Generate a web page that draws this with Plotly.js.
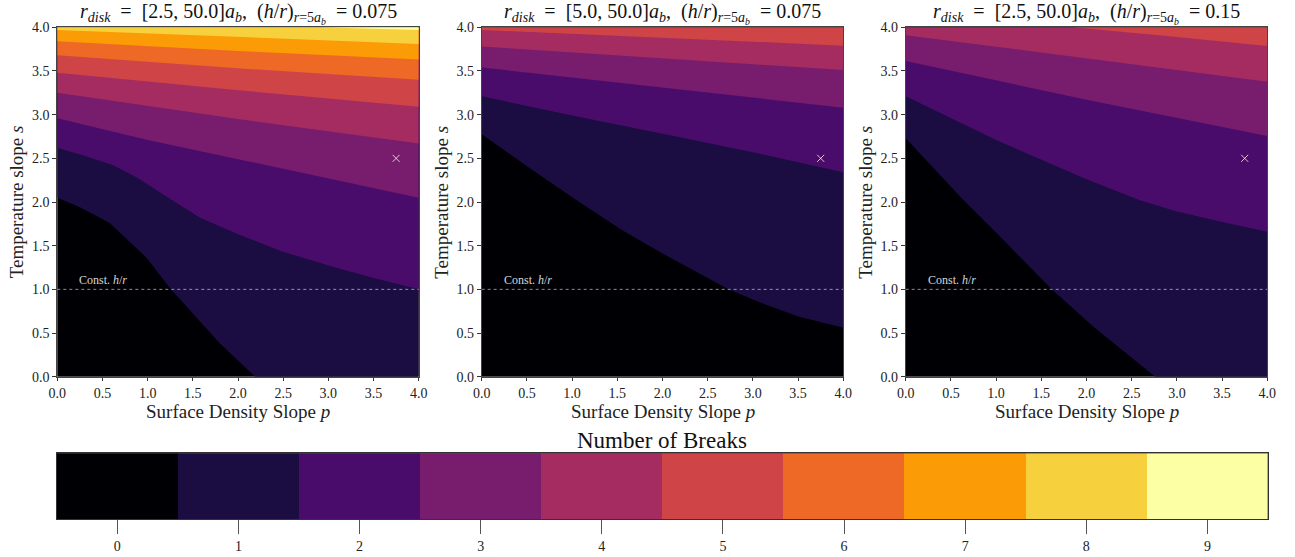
<!DOCTYPE html>
<html>
<head>
<meta charset="utf-8">
<script src="https://cdn.plot.ly/plotly-3.0.1.min.js"></script>
<style>html,body{margin:0;padding:0;background:#fff;}#chart{width:1295px;height:557px;}</style>
</head>
<body>
<div id="chart"></div>
<script>
// ---------- DATA ----------
const LEVELS = [0,1,2,3,4,5,6,7,8,9];
const LEVEL_COLORS = ['#000004','#1b0c41','#4a0c6b','#781c6d','#a52c60','#cf4446','#ed6925','#fb9b06','#f7d13d','#fcffa4'];
const TITLES = [
  '<i>r</i><sub><i>disk</i></sub>  =  [2.5, 50.0]<i>a</i><sub><i>b</i></sub>,  (<i>h</i>/<i>r</i>)<sub><i>r</i>=5<i>a<sub>b</sub></i></sub>  = 0.075',
  '<i>r</i><sub><i>disk</i></sub>  =  [5.0, 50.0]<i>a</i><sub><i>b</i></sub>,  (<i>h</i>/<i>r</i>)<sub><i>r</i>=5<i>a<sub>b</sub></i></sub>  = 0.075',
  '<i>r</i><sub><i>disk</i></sub>  =  [2.5, 50.0]<i>a</i><sub><i>b</i></sub>,  (<i>h</i>/<i>r</i>)<sub><i>r</i>=5<i>a<sub>b</sub></i></sub>  = 0.15'
];
const MARKER_P = 3.75, MARKER_S = 2.5;
const CONST_HR_S = 1.0;

// Panel 1 : boundary where level k begins (region above has >= k breaks)
const P1_B1_P = [0, 0.25, 0.58, 0.99, 1.25, 1.8, 2.19];
const P1_B1_S = [2.05, 1.94, 1.76, 1.36, 1.01, 0.38, 0.0];
const P1_B2_P = [0, 0.3, 0.62, 0.9, 1.15, 1.58, 2.0, 2.5, 3.05, 3.5, 4.0];
const P1_B2_S = [2.62, 2.53, 2.42, 2.27, 2.10, 1.82, 1.63, 1.43, 1.26, 1.13, 1.0];
const P1_B3_P = [0, 1, 2, 3, 4];
const P1_B3_S = [2.96, 2.71, 2.49, 2.27, 2.05];
const P1_B4_P = [0, 2, 4];
const P1_B4_S = [3.25, 2.95, 2.67];
const P1_B5_P = [0, 2, 4];
const P1_B5_S = [3.48, 3.28, 3.09];
const P1_B6_P = [0, 2, 4];
const P1_B6_S = [3.68, 3.53, 3.40];
const P1_B7_P = [0, 2, 4];
const P1_B7_S = [3.84, 3.73, 3.63];
const P1_B8_P = [0, 2, 4];
const P1_B8_S = [3.97, 3.89, 3.81];
const P1_B9_P = [2.9, 4];
const P1_B9_S = [4.0, 3.97];

// Panel 2
const P2_B1_P = [0, 0.5, 1.05, 1.55, 2.0, 2.4, 2.73, 3.1, 3.5, 4.0];
const P2_B1_S = [2.775, 2.41, 2.02, 1.68, 1.41, 1.19, 1.0, 0.84, 0.69, 0.56];
const P2_B2_P = [0, 1, 2, 3, 4];
const P2_B2_S = [3.21, 2.99, 2.78, 2.57, 2.34];
const P2_B3_P = [0, 2, 4];
const P2_B3_S = [3.54, 3.31, 3.08];
const P2_B4_P = [0, 2, 4];
const P2_B4_S = [3.78, 3.645, 3.51];
const P2_B5_P = [0, 2, 4];
const P2_B5_S = [3.97, 3.88, 3.79];

// Panel 3
const P3_B1_P = [0, 0.64, 1.0, 1.615, 2.08, 2.76];
const P3_B1_S = [2.73, 2.02, 1.65, 1.0, 0.57, 0.0];
const P3_B2_P = [0, 1, 2, 2.59, 3, 3.5, 4];
const P3_B2_S = [3.21, 2.71, 2.26, 2.02, 1.89, 1.77, 1.66];
const P3_B3_P = [0, 2, 4];
const P3_B3_S = [3.615, 3.17, 2.756];
const P3_B4_P = [0, 2, 4];
const P3_B4_S = [3.91, 3.64, 3.378];
const P3_B5_P = [1.85, 3, 4];
const P3_B5_S = [4.0, 3.89, 3.786];

const PANELS = [
  [[1,P1_B1_P,P1_B1_S],[2,P1_B2_P,P1_B2_S],[3,P1_B3_P,P1_B3_S],[4,P1_B4_P,P1_B4_S],[5,P1_B5_P,P1_B5_S],[6,P1_B6_P,P1_B6_S],[7,P1_B7_P,P1_B7_S],[8,P1_B8_P,P1_B8_S],[9,P1_B9_P,P1_B9_S]],
  [[1,P2_B1_P,P2_B1_S],[2,P2_B2_P,P2_B2_S],[3,P2_B3_P,P2_B3_S],[4,P2_B4_P,P2_B4_S],[5,P2_B5_P,P2_B5_S]],
  [[1,P3_B1_P,P3_B1_S],[2,P3_B2_P,P3_B2_S],[3,P3_B3_P,P3_B3_S],[4,P3_B4_P,P3_B4_S],[5,P3_B5_P,P3_B5_S]]
];

// ---------- GEOMETRY / STYLE ----------
const W = 1295, H = 557;
const PMIN = 0, PMAX = 4, SMIN = 0, SMAX = 4;
const XDOM = [[57.3, 418.7], [481.7, 843.3], [905.7, 1267.3]];
const YTOP = 27.3, YBOT = 376.7;
const CB = {x0: 56.7, x1: 1268, y0: 453.3, y1: 519};
const FONT = '"Liberation Serif", "DejaVu Serif", serif';
const fx = px => px / W;
const fy = py => 1 - py / H;

const traces = [];
const layout = {
  width: W, height: H,
  margin: {l: 0, r: 0, t: 0, b: 0},
  paper_bgcolor: '#ffffff',
  plot_bgcolor: LEVEL_COLORS[0],
  showlegend: false,
  font: {family: FONT, color: '#222'},
  annotations: []
};

function regionAbove(p, s) {
  const xs = p.slice(), ys = s.slice();
  if (xs[0] > PMIN) { xs.unshift(PMIN); ys.unshift(ys[0]); }
  if (xs[xs.length - 1] < PMAX) { xs.push(PMAX); ys.push(ys[ys.length - 1]); }
  xs.push(PMAX, PMIN, xs[0]);
  ys.push(SMAX, SMAX, ys[0]);
  return {xs, ys};
}

PANELS.forEach((bounds, i) => {
  const n = i + 1;
  const xa = 'x' + (n === 1 ? '' : n), ya = 'y' + (n === 1 ? '' : n);
  bounds.forEach(([lev, p, s]) => {
    const r = regionAbove(p, s);
    traces.push({
      type: 'scatter', mode: 'lines', x: r.xs, y: r.ys, xaxis: xa, yaxis: ya,
      fill: 'toself', fillcolor: LEVEL_COLORS[lev], line: {width: 0, color: LEVEL_COLORS[lev]},
      hoverinfo: 'skip'
    });
  });
  traces.push({
    type: 'scatter', mode: 'lines', x: [PMIN, PMAX], y: [CONST_HR_S, CONST_HR_S], xaxis: xa, yaxis: ya,
    line: {color: 'rgba(255,255,255,0.55)', width: 1, dash: 'dot'}, hoverinfo: 'skip'
  });
  traces.push({
    type: 'scatter', mode: 'markers', x: [MARKER_P], y: [MARKER_S], xaxis: xa, yaxis: ya,
    marker: {symbol: 'x-thin', size: 7, line: {width: 1, color: 'rgba(255,225,240,0.85)'}}, hoverinfo: 'skip'
  });
  const common = {
    tick0: 0, dtick: 0.5, tickformat: '.1f', ticks: 'outside', ticklen: 4, tickwidth: 1, tickcolor: '#333',
    showline: true, mirror: true, linecolor: '#444', linewidth: 1, showgrid: false, zeroline: false,
    tickfont: {family: FONT, size: 14, color: '#222'}
  };
  layout['xaxis' + (n === 1 ? '' : n)] = Object.assign({domain: [fx(XDOM[i][0]), fx(XDOM[i][1])], anchor: ya, range: [PMIN, PMAX], ticklen: 3}, common, {ticklen: 3});
  layout['yaxis' + (n === 1 ? '' : n)] = Object.assign({domain: [fy(YBOT), fy(YTOP)], anchor: xa, range: [SMIN, SMAX]}, common);
  const cx = (XDOM[i][0] + XDOM[i][1]) / 2;
  layout.annotations.push({
    xref: 'paper', yref: 'paper', x: fx(cx), y: fy(13), xanchor: 'center', yanchor: 'middle',
    text: TITLES[i], showarrow: false, font: {family: FONT, size: 20, color: '#111'}
  });
  layout.annotations.push({
    xref: 'paper', yref: 'paper', x: fx(cx), y: fy(411), xanchor: 'center', yanchor: 'middle',
    text: 'Surface Density Slope <i>p</i>', showarrow: false, font: {family: FONT, size: 19, color: '#222'}
  });
  layout.annotations.push({
    xref: 'paper', yref: 'paper', x: fx(XDOM[i][0] - 40), y: fy((YTOP + YBOT) / 2), xanchor: 'center', yanchor: 'middle',
    textangle: -90, text: 'Temperature slope <i>s</i>', showarrow: false, font: {family: FONT, size: 19, color: '#222'}
  });
  layout.annotations.push({
    xref: xa, yref: ya, x: 0.22, y: CONST_HR_S, xanchor: 'left', yanchor: 'bottom', yshift: 0,
    text: 'Const. <i>h</i>/<i>r</i>', showarrow: false, font: {family: FONT, size: 12, color: 'rgba(255,255,255,0.85)'}
  });
});

// ---------- COLORBAR ----------
const cs = LEVEL_COLORS.map((c, k) => [k / (LEVELS.length - 1), c]);
traces.push({
  type: 'heatmap', x: LEVELS, y: [0], z: [LEVELS], xaxis: 'x4', yaxis: 'y4',
  colorscale: cs, zmin: LEVELS[0], zmax: LEVELS[LEVELS.length - 1], showscale: false, hoverinfo: 'skip'
});
layout.xaxis4 = {
  domain: [fx(CB.x0), fx(CB.x1)], anchor: 'y4', range: [-0.5, 9.5],
  tickvals: LEVELS, ticktext: LEVELS.map(String), ticks: 'outside', ticklen: 14, tickwidth: 1, tickcolor: '#555',
  showline: true, mirror: true, linecolor: '#333', linewidth: 1, showgrid: false, zeroline: false,
  tickfont: {family: FONT, size: 14, color: '#222'}
};
layout.yaxis4 = {
  domain: [fy(CB.y1), fy(CB.y0)], anchor: 'x4', range: [-0.5, 0.5],
  showticklabels: false, ticks: '', showline: true, mirror: true, linecolor: '#333', linewidth: 1,
  showgrid: false, zeroline: false
};
layout.annotations.push({
  xref: 'paper', yref: 'paper', x: fx((CB.x0 + CB.x1) / 2), y: fy(CB.y0 + 2), xanchor: 'center', yanchor: 'bottom',
  text: 'Number of Breaks', showarrow: false, font: {family: FONT, size: 23, color: '#111'}
});

Plotly.newPlot('chart', traces, layout, {staticPlot: true, displayModeBar: false});
</script>
</body>
</html>
